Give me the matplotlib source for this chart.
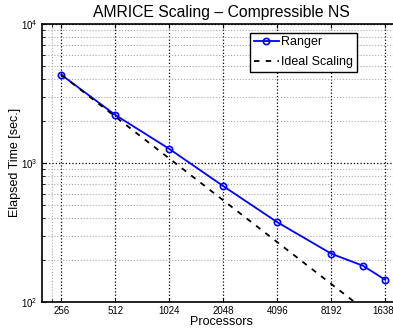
import matplotlib.pyplot as plt
import matplotlib.ticker as ticker

plt.rcParams['font.family'] = ['Liberation Sans', 'DejaVu Sans']

# Data
processors = [256, 512, 1024, 2048, 4096, 8192, 12288, 16384]
ranger_time = [4300, 2210, 1260, 680, 374, 222, 182, 144]
ideal_procs = [256, 512, 1024, 2048, 4096, 8192, 16384]
ideal_time = [4300 * 256 / p for p in ideal_procs]
xtick_vals = [256, 512, 1024, 2048, 4096, 8192, 16384]
xtick_labels = ['256', '512', '1024', '2048', '4096', '8192', '16384']

fig = plt.figure(figsize=(3.93, 3.31), dpi=100)
ax = fig.add_axes([0.107, 0.088, 0.913, 0.84])

ax.plot(processors, ranger_time, '-o', color='#0000ff', lw=1.3,
        ms=4.5, mfc='none', mew=1.2, label='Ranger')
ax.plot(ideal_procs, ideal_time, '--', color='black', lw=1.3,
        dashes=(3, 3.5), label='Ideal Scaling')

ax.set_xscale('log', base=2)
ax.set_yscale('log')
ax.set_xlim(200, 20000)
ax.set_ylim(100, 10000)

ax.xaxis.set_major_locator(ticker.FixedLocator(xtick_vals))
ax.xaxis.set_major_formatter(ticker.FixedFormatter(xtick_labels))
ax.xaxis.set_minor_locator(ticker.FixedLocator([228]))
ax.yaxis.set_major_locator(ticker.FixedLocator([100, 1000, 10000]))
ax.yaxis.set_major_formatter(ticker.LogFormatterMathtext())
ax.yaxis.set_minor_locator(ticker.LogLocator(base=10, subs=range(2, 10)))
ax.yaxis.set_minor_formatter(ticker.NullFormatter())

ax.tick_params(which='both', direction='in', labelsize=7, top=True, right=True)
ax.tick_params(which='major', length=3, width=0.8, pad=3)
ax.tick_params(which='minor', length=2, width=0.6)

ax.grid(True, which='major', color='black', ls=':', lw=0.9)
ax.grid(True, which='minor', color='#aaaaaa', ls=':', lw=0.8)
ax.set_axisbelow(True)

for s in ax.spines.values():
    s.set_linewidth(1.2)

ax.set_title('AMRICE Scaling – Compressible NS', fontsize=11.3, pad=5)
ax.set_xlabel('Processors', fontsize=9, labelpad=0)
ax.set_ylabel('Elapsed Time [sec.]', fontsize=9, labelpad=0)

leg = ax.legend(loc='upper left', bbox_to_anchor=(0.58, 0.968), fontsize=9,
                fancybox=False, framealpha=1, edgecolor='black',
                handlelength=2.0, handletextpad=0.2, borderpad=0.3,
                labelspacing=0.6, borderaxespad=0)
leg.get_frame().set_linewidth(1.0)

fig.savefig('out.png', dpi=100)
